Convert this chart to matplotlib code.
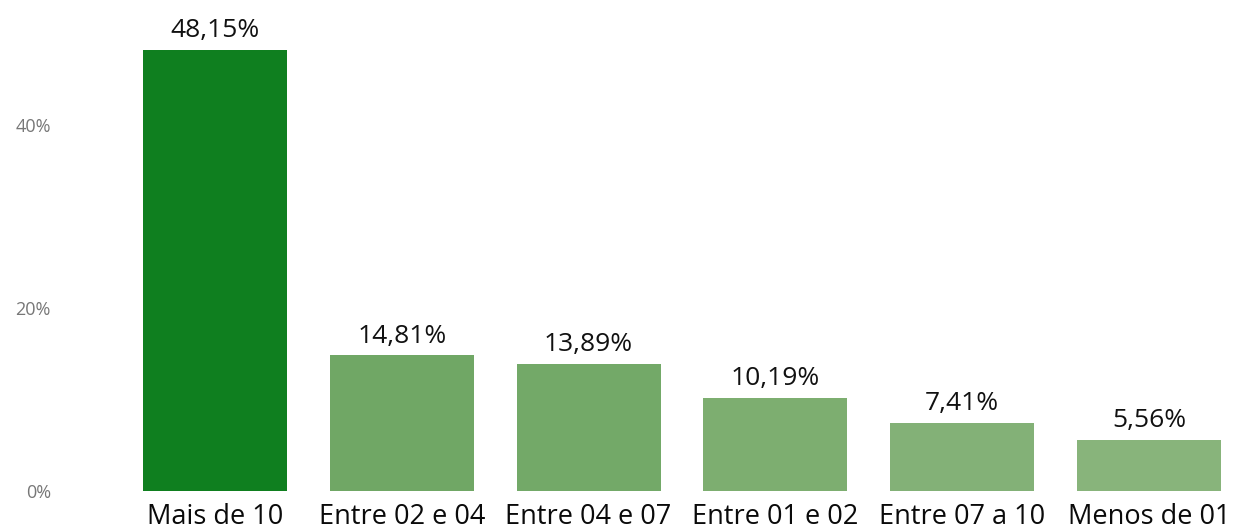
import matplotlib
matplotlib.use("Agg")
import matplotlib.pyplot as plt

categories = ["Mais de 10", "Entre 02 e 04", "Entre 04 e 07", "Entre 01 e 02", "Entre 07 a 10", "Menos de 01"]
values = [48.15, 14.81, 13.89, 10.19, 7.41, 5.56]
labels = ["48,15%", "14,81%", "13,89%", "10,19%", "7,41%", "5,56%"]
colors = ["#0F7F1F", "#70A765", "#73A968", "#7DAE70", "#83B177", "#88B47B"]
yticks = [0, 20, 40]
yticklabels = ["0%", "20%", "40%"]

plt.rcParams['font.family'] = ['Open Sans', 'DejaVu Sans']

W, H = 1235, 532
fig = plt.figure(figsize=(W / 100, H / 100), dpi=100)
left_px, right_px, top_px, bottom_px = 121.6, 1235, 0, 491
ax = fig.add_axes([left_px / W, (H - bottom_px) / H, (right_px - left_px) / W, (bottom_px - top_px) / H])

slot = 186.8
x = list(range(len(categories)))
ax.bar(x, values, width=144 / slot, color=colors)
ax.set_xlim(-0.5, -0.5 + (right_px - left_px) / slot)
ax.set_ylim(0, (bottom_px - top_px) / 9.15)

for xi, v, lab in zip(x, values, labels):
    ax.annotate(lab, (xi, v), xytext=(0, 5), textcoords="offset points",
                ha="center", va="bottom", fontsize=19, color="#111111")

ax.set_xticks(x)
ax.set_xticklabels(categories, fontsize=19.5, color="#0a0a0a")
ax.set_yticks(yticks)
ax.set_yticklabels(yticklabels, fontsize=13, color="#777777")
ax.tick_params(axis="x", length=0, pad=9)
ax.tick_params(axis="y", length=0, pad=51)
for lab in ax.get_yticklabels():
    lab.set_horizontalalignment("right")
for s in ax.spines.values():
    s.set_visible(False)

fig.savefig("out.png", dpi=100)
